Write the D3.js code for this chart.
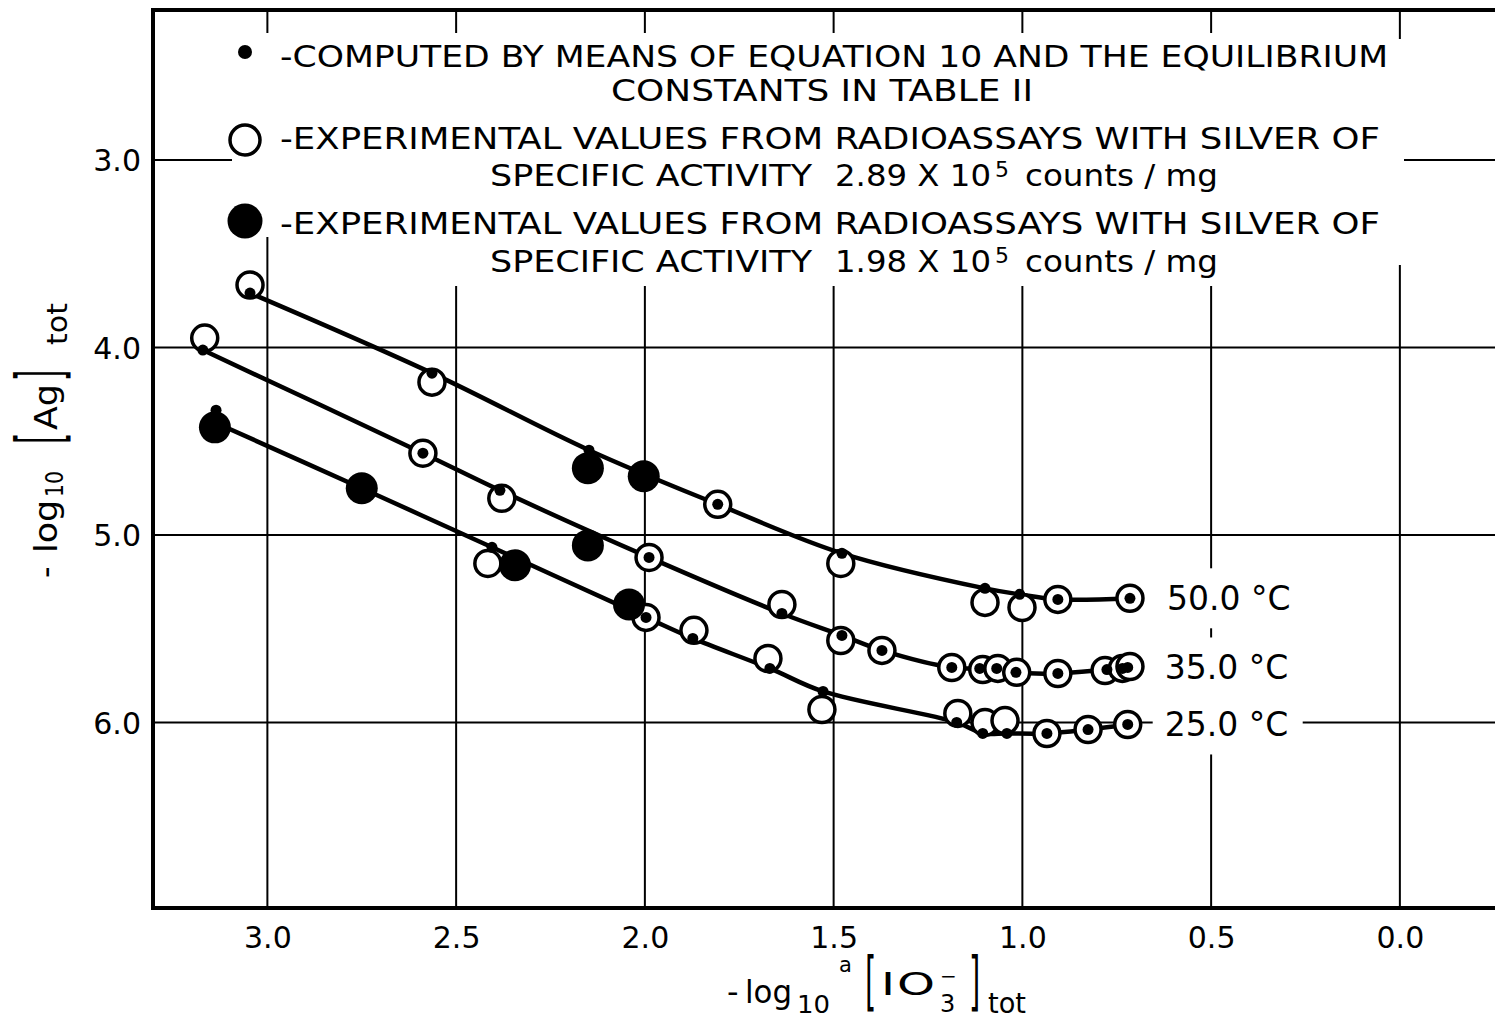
<!DOCTYPE html>
<html>
<head>
<meta charset="utf-8">
<script src="https://cdn.jsdelivr.net/npm/d3@7"></script>
<style>
  html, body { margin: 0; padding: 0; background: #fff; }
  svg { display: block; }
  text { font-family: "DejaVu Sans", sans-serif; fill: #000; }
</style>
</head>
<body>
<svg id="chart" width="1495" height="1019"></svg>
<script>
// Axis ticks
const xTicks = [3.0, 2.5, 2.0, 1.5, 1.0, 0.5, 0.0];
const yTicks = [3.0, 4.0, 5.0, 6.0];
const temperatures = ["50.0 °C", "35.0 °C", "25.0 °C"];

// 50.0 °C  — [ -log a[IO3-]tot , -log [Ag]tot ]
const open50  = [[3.046,3.667],[2.564,4.185],[1.807,4.837],[1.481,5.152],[1.099,5.360],[1.001,5.387],[0.906,5.344],[0.715,5.338]];
const solid50 = [[2.151,4.644],[2.003,4.687]];
const calc50  = [[3.046,3.710],[2.564,4.137],[2.148,4.548],[1.807,4.837],[1.478,5.098],[1.099,5.285],[1.007,5.317],[0.906,5.344],[0.715,5.338]];

// 35.0 °C
const open35  = [[3.166,3.950],[2.588,4.564],[2.379,4.805],[1.989,5.120],[1.637,5.371],[1.481,5.563],[1.372,5.616],[1.187,5.707],[1.105,5.718],[1.065,5.712],[1.015,5.733],[0.906,5.739],[0.781,5.723],[0.735,5.712],[0.715,5.702]];
const solid35 = [[2.151,5.056]];
const calc35  = [[3.171,4.014],[2.588,4.564],[2.384,4.762],[1.989,5.120],[1.637,5.419],[1.478,5.536],[1.372,5.616],[1.187,5.707],[1.113,5.712],[1.068,5.712],[1.017,5.733],[0.906,5.739],[0.776,5.718],[0.735,5.712],[0.721,5.707]];

// 25.0 °C
const open25  = [[2.416,5.152],[1.997,5.440],[1.870,5.509],[1.674,5.659],[1.531,5.931],[1.171,5.952],[1.099,6.000],[1.046,5.990],[0.935,6.059],[0.826,6.038],[0.721,6.011]];
const solid25 = [[3.139,4.426],[2.750,4.751],[2.344,5.162],[2.042,5.371]];
const calc25  = [[3.136,4.335],[2.405,5.066],[1.997,5.440],[1.873,5.552],[1.669,5.712],[1.528,5.835],[1.174,6.000],[1.105,6.059],[1.041,6.059],[0.935,6.059],[0.826,6.038],[0.721,6.011]];
const fit25   = [[3.139,4.400],[2.750,4.751],[2.405,5.066],[1.997,5.440],[1.873,5.552],[1.669,5.712],[1.528,5.835],[1.174,6.000],[1.105,6.059],[1.041,6.059],[0.935,6.059],[0.826,6.038],[0.721,6.011]];

const series = [
  { label: temperatures[0], open: open50, solid: solid50, calc: calc50, fit: calc50 },
  { label: temperatures[1], open: open35, solid: solid35, calc: calc35, fit: calc35 },
  { label: temperatures[2], open: open25, solid: solid25, calc: calc25, fit: fit25 }
];

const legendItems = [
  { symbol: "calc",  head: "-COMPUTED BY MEANS OF EQUATION 10 AND THE EQUILIBRIUM", cont: "CONSTANTS IN TABLE II" },
  { symbol: "open",  head: "-EXPERIMENTAL VALUES FROM RADIOASSAYS WITH SILVER OF", cont: "SPECIFIC ACTIVITY", value: "2.89 X 10", sup: "5", unit: "counts / mg" },
  { symbol: "solid", head: "-EXPERIMENTAL VALUES FROM RADIOASSAYS WITH SILVER OF", cont: "SPECIFIC ACTIVITY", value: "1.98 X 10", sup: "5", unit: "counts / mg" }
];

// ---- layout ----
const plot = { left: 153, right: 1495, top: 10, bottom: 908 };
const R_OPEN = 13, R_SOLID = 16, R_CALC = 5.5;

const svg = d3.select("#chart");
const x = d3.scaleLinear().domain([3.303, -0.252]).range([plot.left, plot.right]);
const y = d3.scaleLinear().domain([2.2, 6.99]).range([plot.top, plot.bottom]);

// grid
const grid = svg.append("g").attr("stroke", "#000").attr("stroke-width", 2);
grid.selectAll("line.v").data(xTicks).join("line")
  .attr("x1", d => x(d)).attr("x2", d => x(d))
  .attr("y1", plot.top).attr("y2", plot.bottom);
grid.selectAll("line.h").data(yTicks).join("line")
  .attr("x1", plot.left).attr("x2", plot.right)
  .attr("y1", d => y(d)).attr("y2", d => y(d));

// tick labels via axes
const yAxis = svg.append("g").attr("transform", `translate(${plot.left},0)`)
  .call(d3.axisLeft(y).tickValues(yTicks).tickFormat(d3.format(".1f")).tickSize(0).tickPadding(12));
yAxis.select(".domain").remove();
yAxis.selectAll("text").attr("font-size", 30).attr("font-family", "DejaVu Sans").attr("dy", "0.36em");

const xAxis = svg.append("g").attr("transform", `translate(0,${plot.bottom})`)
  .call(d3.axisBottom(x).tickValues(xTicks).tickFormat(d3.format(".1f")).tickSize(0).tickPadding(19));
xAxis.select(".domain").remove();
xAxis.selectAll("text").attr("font-size", 30).attr("font-family", "DejaVu Sans");

// legend background (hides the grid behind the key)
const mask = svg.append("g").attr("fill", "#fff");
mask.append("rect").attr("x", 232).attr("y", 33).attr("width", 1163).attr("height", 204);
mask.append("rect").attr("x", 300).attr("y", 33).attr("width", 1090).attr("height", 253);
mask.append("rect").attr("x", 1390).attr("y", 39).attr("width", 14).attr("height", 226);

// frame
const frame = svg.append("g").attr("stroke", "#000").attr("stroke-width", 4).attr("stroke-linecap", "square");
frame.append("line").attr("x1", plot.left).attr("x2", plot.left).attr("y1", plot.top).attr("y2", plot.bottom);
frame.append("line").attr("x1", plot.left).attr("x2", plot.right).attr("y1", plot.top).attr("y2", plot.top);
frame.append("line").attr("x1", plot.left).attr("x2", plot.right).attr("y1", plot.bottom).attr("y2", plot.bottom);

// temperature labels with white backing
const lab = svg.append("g");
series.forEach(s => {
  const last = s.fit[s.fit.length - 1];
  const lx = x(last[0]) + 37, ly = y(last[1]);
  lab.append("rect").attr("x", lx - 12).attr("y", ly - 30).attr("width", 150).attr("height", 60).attr("fill", "#fff");
});
series.forEach(s => {
  const last = s.fit[s.fit.length - 1];
  lab.append("text").attr("x", x(last[0]) + 37).attr("y", y(last[1]) + 12)
    .attr("font-size", 33).text(s.label);
});

// fitted curves
const line = d3.line().x(d => x(d[0])).y(d => y(d[1])).curve(d3.curveCatmullRom.alpha(0.5));
svg.append("g").selectAll("path").data(series).join("path")
  .attr("d", s => line(s.fit))
  .attr("fill", "none").attr("stroke", "#000").attr("stroke-width", 4.5)
  .attr("stroke-linejoin", "round").attr("stroke-linecap", "round");

// experimental points (open), solid points, computed points
const marks = svg.append("g");
series.forEach(s => {
  marks.append("g").selectAll("circle").data(s.open).join("circle")
    .attr("cx", d => x(d[0])).attr("cy", d => y(d[1])).attr("r", R_OPEN)
    .attr("fill", "#fff").attr("stroke", "#000").attr("stroke-width", 3.5);
});
series.forEach(s => {
  marks.append("g").selectAll("circle").data(s.solid).join("circle")
    .attr("cx", d => x(d[0])).attr("cy", d => y(d[1])).attr("r", R_SOLID).attr("fill", "#000");
  marks.append("g").selectAll("circle").data(s.calc).join("circle")
    .attr("cx", d => x(d[0])).attr("cy", d => y(d[1])).attr("r", R_CALC).attr("fill", "#000");
});

// legend
const legend = svg.append("g");
const rowY = [[67, 101], [149, 186], [234, 272]];
const symY = [52, 140, 221];
const FS = 31;
function fitText(g, str, x0, y0, len, size) {
  return g.append("text").attr("x", x0).attr("y", y0).attr("font-size", size || FS)
    .attr("textLength", len).attr("lengthAdjust", "spacingAndGlyphs").text(str);
}
legendItems.forEach((item, i) => {
  const sy = symY[i];
  if (item.symbol === "calc") legend.append("circle").attr("cx", 245).attr("cy", sy).attr("r", 7).attr("fill", "#000");
  if (item.symbol === "open") legend.append("circle").attr("cx", 245).attr("cy", sy).attr("r", 15)
    .attr("fill", "#fff").attr("stroke", "#000").attr("stroke-width", 3.5);
  if (item.symbol === "solid") legend.append("circle").attr("cx", 245).attr("cy", sy).attr("r", 17.5).attr("fill", "#000");

  fitText(legend, item.head, 280, rowY[i][0], i === 0 ? 1108 : 1100);
  if (i === 0) {
    fitText(legend, item.cont, 611, rowY[i][1], 422);
  } else {
    fitText(legend, item.cont, 490, rowY[i][1], 322);
    fitText(legend, item.value, 835, rowY[i][1], 156);
    legend.append("text").attr("x", 995).attr("y", rowY[i][1] - 9).attr("font-size", 22).text(item.sup);
    fitText(legend, item.unit, 1025, rowY[i][1], 193);
  }
});

// x axis title: -log10 a[IO3-]tot
const xt = svg.append("g");
const xtParts = [
  { t: "-",   x: 727, y: 1003, s: 32 },
  { t: "log", x: 745, y: 1003, s: 32, L: 47 },
  { t: "10",  x: 797, y: 1013, s: 24, L: 33 },
  { t: "a",   x: 839, y: 972,  s: 21 },
  { t: "[",   x: 865, y: 1003, s: 29, k: 2.2 },
  { t: "I",   x: 881, y: 995,  s: 32, f: "DejaVu Serif", L: 14 },
  { t: "O",   x: 897, y: 995,  s: 32, L: 38 },
  { t: "3",   x: 940, y: 1012, s: 24 },
  { t: "−",   x: 940, y: 983,  s: 20 },
  { t: "]",   x: 969, y: 1003, s: 29, k: 2.2 },
  { t: "tot", x: 988, y: 1013, s: 28, L: 38 }
];
function part(g, p) {
  const t = g.append("text").attr("font-size", p.s).text(p.t);
  if (p.k) t.attr("transform", `translate(${p.x},${p.y}) scale(1,${p.k})`);
  else t.attr("x", p.x).attr("y", p.y);
  if (p.f) t.attr("font-family", p.f);
  if (p.L) t.attr("textLength", p.L).attr("lengthAdjust", "spacingAndGlyphs");
}
xtParts.forEach(p => part(xt, p));

// y axis title: -log10 [Ag]tot (rotated)
const yt = svg.append("g").attr("transform", "translate(57,440) rotate(-90)");
const ytParts = [
  { t: "-",   x: -138, y: 0,   s: 32 },
  { t: "log", x: -113, y: 0,   s: 32, L: 53 },
  { t: "10",  x: -57,  y: 6,   s: 24, L: 26 },
  { t: "[",   x: -4,   y: 4.5, s: 29, k: 2.2 },
  { t: "Ag",  x: 10,   y: 0,   s: 32, L: 46 },
  { t: "]",   x: 59,   y: 4.5, s: 29, k: 2.2 },
  { t: "tot", x: 95,   y: 10,  s: 28, L: 42 }
];
ytParts.forEach(p => part(yt, p));
</script>
</body>
</html>
